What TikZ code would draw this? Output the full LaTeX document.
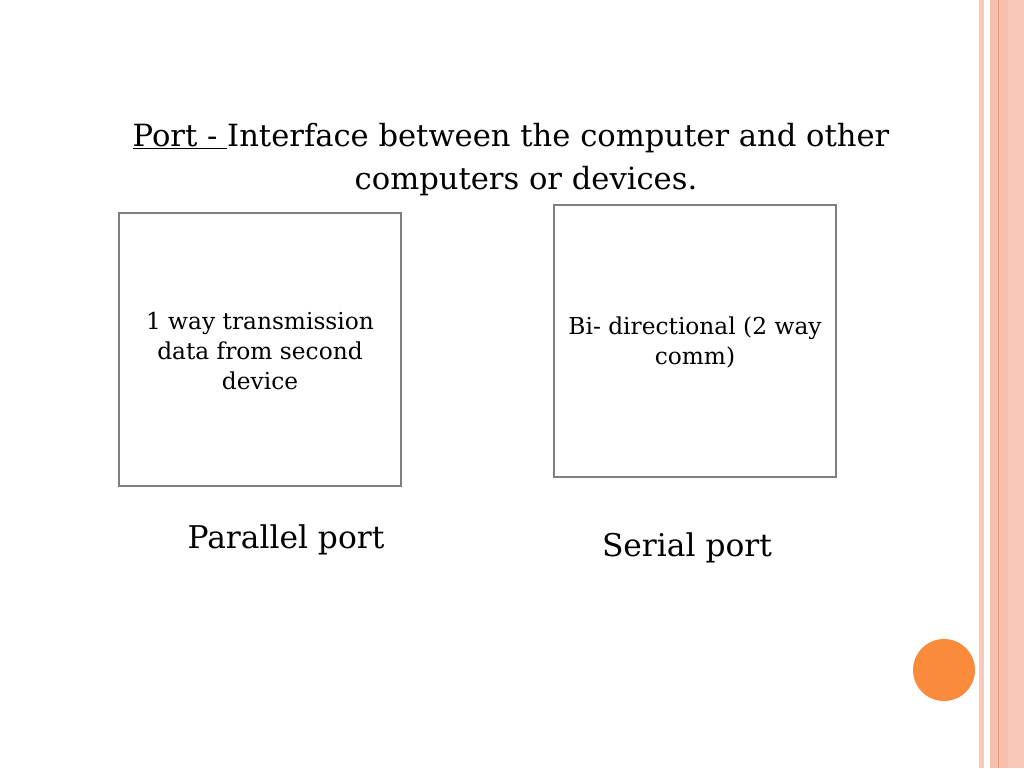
\documentclass[tikz,border=0pt]{standalone}
\usepackage{fontspec}
\setmainfont{DejaVu Serif}
\definecolor{stripe}{HTML}{FAC8B6}
\definecolor{stripeB}{HTML}{F7C0AC}
\definecolor{stripeline}{HTML}{E79C7E}
\definecolor{boxgray}{HTML}{7E7F86}
\definecolor{dot}{HTML}{FA8A3C}
\begin{document}
\begin{tikzpicture}[x=1pt,y=-1pt,
  portbox/.style={draw=boxgray,line width=2.8pt},
  boxtext/.style={align=center,font=\fontsize{23.3}{30}\selectfont,inner sep=0pt},
  title/.style={font=\fontsize{30.6}{40}\selectfont,inner sep=0pt},
  caption/.style={font=\fontsize{31.3}{36}\selectfont,inner sep=0pt}]
\useasboundingbox (0,0) rectangle (1024,768);
\fill[white] (0,0) rectangle (1024,768);
% right border stripes
\fill[stripe] (979,0) rectangle (984,768);
\fill[stripeB] (990,0) rectangle (1008,768);
\fill[stripe] (1008,0) rectangle (1024,768);
\draw[stripeline,line width=0.8pt] (998,0) -- (998,768);
% title
\node[title] (t1) at (511,138) {\underline{Port -\ }Interface between the computer and other};
\node[title] (t2) at (526,181) {computers or devices.};
% boxes
\draw[portbox] (119,213) rectangle (401,486);
\coordinate (lb) at (260,351);
\node[boxtext] (ltext) at (lb) {1 way transmission\\data from second\\device};
\draw[portbox] (554,205) rectangle (836,477);
\node[boxtext] (rtext) at (695,342) {Bi- directional (2 way\\comm)};
% captions
\node[caption] (pp) at (286,540) {Parallel port};
\node[caption] (sp) at (687,548) {Serial port};
% dot
\fill[dot] (944,670) circle (31);
\end{tikzpicture}
\end{document}
